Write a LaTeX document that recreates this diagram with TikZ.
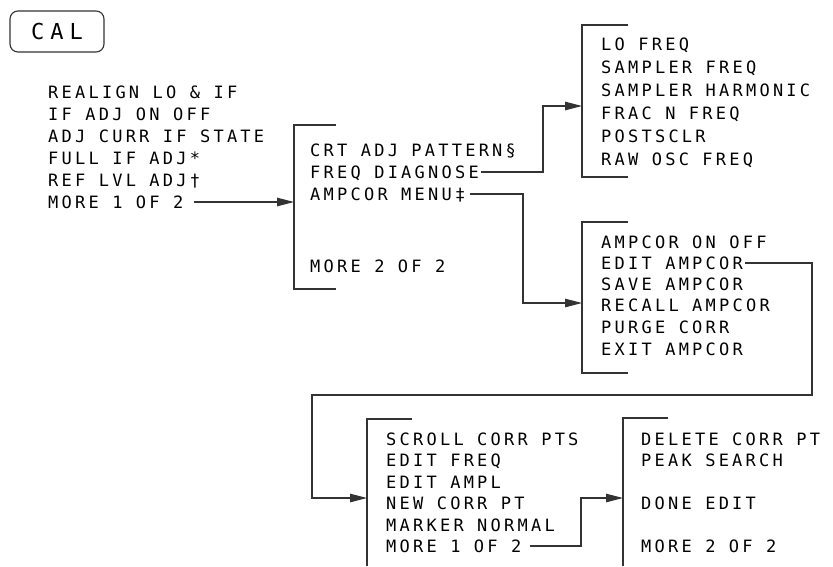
\documentclass[tikz,border=0pt]{standalone}
\usepackage{fontspec}
\usetikzlibrary{arrows.meta, calc}

\newfontfamily\menufont{DejaVu Sans Mono}[LetterSpace=19]
\newfontfamily\keyfont{DejaVu Sans Mono}[LetterSpace=27]

\tikzset{
  menu/.style={anchor=west, inner sep=0pt, text height=12.4pt, text depth=0pt,
    font=\menufont\fontsize{17}{20}\selectfont},
  bracket/.style={draw=black!80, line width=1.1pt},
  link/.style={draw=black!80, line width=1.1pt},
  arrowlink/.style={link, -{Triangle[length=17pt, width=8.5pt]}},
}

\begin{document}
\begin{tikzpicture}[x=1pt, y=-1pt]
    % ================= Canvas =================
    \path[use as bounding box] (0,0) rectangle (833,566);

    % ================= Hard key =================
    \node[draw=black!80, line width=1.1pt, rounded corners=8pt, minimum width=94pt,
      minimum height=41pt, inner sep=0pt, font=\keyfont\fontsize{22}{24}\selectfont]
      (cal) at (57,31.5) {CAL};

    % ================= Bracket corners =================
    \coordinate (b2-top) at (294,125);
    \coordinate (b3-top) at (582,25);
    \coordinate (b4-top) at (582,222);
    \coordinate (b5-top) at (367,419);
    \coordinate (b6-top) at (623,418);

    % Connector bends
    \coordinate (j1) at (543,106);
    \coordinate (j2) at (523,303);
    \coordinate (j3) at (812,395);
    \coordinate (j4) at (312,498);
    \coordinate (j5) at (581,498);

    % ================= Menu 1 =================
    \node[menu] (m1-1) at (48,92)  {REALIGN LO \& IF};
    \node[menu] (m1-2) at (48,114) {IF ADJ ON OFF};
    \node[menu] (m1-3) at (48,136) {ADJ CURR IF STATE};
    \node[menu] (m1-4) at (48,158) {FULL IF ADJ*};
    \node[menu] (m1-5) at (48,180) {REF LVL ADJ†};
    \node[menu] (m1-6) at (48,202) {MORE 1 OF 2};

    % ================= Menu 2 =================
    \draw[bracket] ($(b2-top)+(42,0)$) -- (b2-top) -- ++(0,164) -- ++(42,0);
    \node[menu] (m2-1) at (310,150) {CRT ADJ PATTERN§};
    \node[menu] (m2-2) at (310,172) {FREQ DIAGNOSE};
    \node[menu] (m2-3) at (310,194) {AMPCOR MENU‡};
    \node[menu] (m2-6) at (310,266) {MORE 2 OF 2};

    % ================= Menu 3 =================
    \draw[bracket] ($(b3-top)+(46,0)$) -- (b3-top) -- ++(0,152) -- ++(46,0);
    \node[menu] (m3-1) at (601,44)  {LO FREQ};
    \node[menu] (m3-2) at (601,67)  {SAMPLER FREQ};
    \node[menu] (m3-3) at (601,90)  {SAMPLER HARMONIC};
    \node[menu] (m3-4) at (601,113) {FRAC N FREQ};
    \node[menu] (m3-5) at (601,136) {POSTSCLR};
    \node[menu] (m3-6) at (601,159) {RAW OSC FREQ};

    % ================= Menu 4 =================
    \draw[bracket] ($(b4-top)+(46,0)$) -- (b4-top) -- ++(0,151) -- ++(46,0);
    \node[menu] (m4-1) at (601,242) {AMPCOR ON OFF};
    \node[menu] (m4-2) at (601,263) {EDIT AMPCOR};
    \node[menu] (m4-3) at (601,284) {SAVE AMPCOR};
    \node[menu] (m4-4) at (601,305) {RECALL AMPCOR};
    \node[menu] (m4-5) at (601,327) {PURGE CORR};
    \node[menu] (m4-6) at (601,349) {EXIT AMPCOR};

    % ================= Menu 5 =================
    \draw[bracket] ($(b5-top)+(45,0)$) -- (b5-top) -- (b5-top |- 0,566);
    \node[menu] (m5-1) at (386,439) {SCROLL CORR PTS};
    \node[menu] (m5-2) at (386,460) {EDIT FREQ};
    \node[menu] (m5-3) at (386,482) {EDIT AMPL};
    \node[menu] (m5-4) at (386,503) {NEW CORR PT};
    \node[menu] (m5-5) at (386,525) {MARKER NORMAL};
    \node[menu] (m5-6) at (386,546) {MORE 1 OF 2};

    % ================= Menu 6 =================
    \draw[bracket] ($(b6-top)+(45,0)$) -- (b6-top) -- (b6-top |- 0,566);
    \node[menu] (m6-1) at (641,439) {DELETE CORR PT};
    \node[menu] (m6-2) at (641,460) {PEAK SEARCH};
    \node[menu] (m6-4) at (641,503) {DONE EDIT};
    \node[menu] (m6-6) at (641,546) {MORE 2 OF 2};

    % ================= Connectors =================
    \draw[arrowlink] ([xshift=10pt]m1-6.east) -- (m1-6.east -| b2-top);
    \draw[arrowlink] ([xshift=2pt]m2-2.east) -| (j1) -- (j1 -| b3-top);
    \draw[arrowlink] ([xshift=4pt]m2-3.east) -| (j2) -- (j2 -| b4-top);
    \draw[arrowlink] ([xshift=2pt]m4-2.east) -| (j3) -| (j4) -- (j4 -| b5-top);
    \draw[arrowlink] ([xshift=8pt]m5-6.east) -| (j5) -- (j5 -| b6-top);

\end{tikzpicture}
\end{document}
